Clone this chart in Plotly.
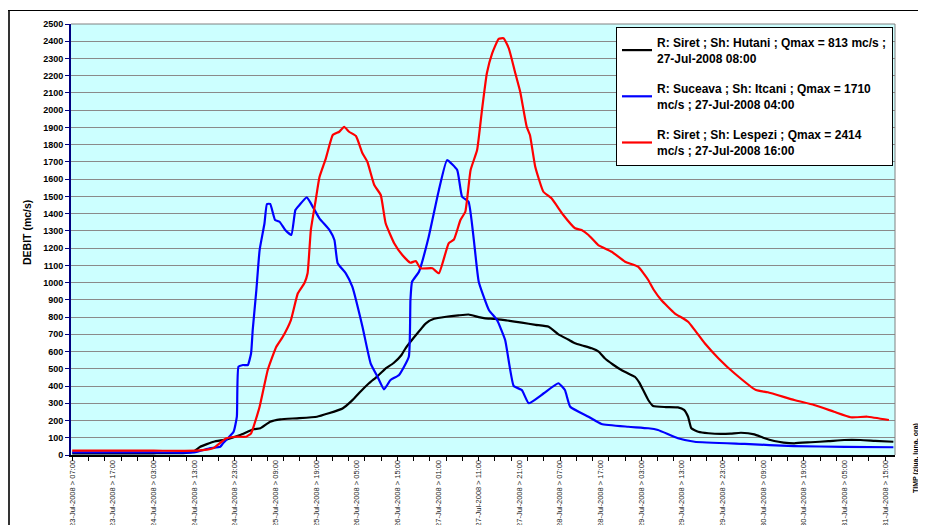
import plotly.graph_objects as go

# Time axis: hours elapsed since 23-Jul-2008 07:00
tick_labels = [
    "23-Jul-2008 > 07:00", "23-Jul-2008 > 17:00", "24-Jul-2008 > 03:00",
    "24-Jul-2008 > 13:00", "24-Jul-2008 > 23:00", "25-Jul-2008 > 09:00",
    "25-Jul-2008 > 19:00", "26-Jul-2008 > 05:00", "26-Jul-2008 > 15:00",
    "27-Jul-2008 > 01:00", "27-Jul-2008 > 11:00", "27-Jul-2008 > 21:00",
    "28-Jul-2008 > 07:00", "28-Jul-2008 > 17:00", "29-Jul-2008 > 03:00",
    "29-Jul-2008 > 13:00", "29-Jul-2008 > 23:00", "30-Jul-2008 > 09:00",
    "30-Jul-2008 > 19:00", "31-Jul-2008 > 05:00", "31-Jul-2008 > 15:00",
]
tick_step_h = 10

# R: Siret ; Sh: Hutani
hutani_h = [0, 10, 20, 28, 30, 31.5, 34.8, 38, 41.3, 44.6, 46.3, 48.7, 51.2, 55.3,
            60.2, 63.1, 66.5, 69, 71, 73, 75, 77, 79, 81, 82, 84, 87, 89, 92, 95,
            97.5, 100, 101.6, 104, 107, 110.6, 114, 117.2, 119.6, 122, 123.7, 125.5,
            127.8, 129.5, 131, 133, 135.1, 137, 138.4, 139.5, 141.7, 142.9, 146, 149,
            150.5, 151.5, 152.3, 154, 156.5, 159.6, 162, 164.5, 167.8, 170, 172.7,
            175, 177.6, 181.7, 186, 189.9, 193.9, 197.5, 202]
hutani_q = [10, 10, 10, 12, 22, 48, 77, 91, 116, 149, 155, 193, 207, 213,
            222, 242, 270, 320, 370, 416, 455, 500, 532, 580, 619, 680, 764, 790, 802, 810,
            815, 800, 793, 790, 780, 768, 755, 744, 700, 670, 648, 635,
            619, 600, 561, 525, 493, 470, 454, 420, 319, 284, 278, 276,
            262, 222, 155, 135, 126, 122, 124, 129, 120, 100, 81,
            72, 68, 74, 80, 87, 87, 82, 77]

# R: Suceava ; Sh: Itcani
itcani_h = [0, 20, 30, 33.8, 36.4, 37.1, 39.7, 40.5, 40.9, 42, 43.2, 44, 44.4, 45.3,
            46.1, 47.3, 47.9, 48.7, 49.9, 51, 52.4, 53.9, 54.9, 55.9, 57.7, 58.7,
            60.8, 63.3, 64.5, 65.3, 67.3, 68.9, 71.4, 73.4, 75.1, 76.7, 78.3, 80.4,
            82.8, 83.2, 83.6, 85.3, 87.7, 90.2, 92.2, 94.7, 95.9, 97.5, 98.8, 100,
            102.5, 104.5, 106.5, 108.6, 110.6, 112.3, 116, 119.6, 121.2, 122.5, 127,
            130.2, 136.8, 141.7, 144.1, 149, 153.1, 165.4, 177.6, 190, 202]
itcani_q = [15, 15, 15, 39, 48, 68, 135, 222, 512, 522, 522, 590, 725, 957,
            1189, 1344, 1456, 1456, 1363, 1353, 1305, 1276, 1421, 1450, 1495, 1460,
            1373, 1305, 1247, 1112, 1054, 976, 744, 532, 454, 381, 435, 464,
            570, 899, 1005, 1063, 1266, 1537, 1710, 1653, 1498, 1469, 1247, 1005,
            841, 783, 667, 400, 377, 300, 358, 416, 377, 280, 222,
            180, 164, 155, 145, 97, 77, 64, 52, 47, 45]

# R: Siret ; Sh: Lespezi
lespezi_h = [0, 20, 30.6, 34.6, 37.9, 40.4, 42.8, 44, 46.1, 48.1, 50.2, 51.8, 53.8,
             55.5, 57.1, 57.9, 58.7, 59.9, 60.8, 62.4, 64.1, 65.7, 66.9, 68.1, 69.8,
             71.4, 72.6, 74.3, 75.9, 77.1, 79.2, 81.2, 83.2, 84.5, 85.7, 88.6, 90.2,
             92.6, 93.9, 95.5, 96.7, 98, 99.6, 100.8, 102, 103.3, 104.9, 106.1, 107.4,
             109, 110.2, 111.8, 112.6, 113.9, 115.9, 117.9, 120.8, 123.7, 125.3, 127,
             129.4, 132.7, 136, 139.2, 141.7, 143, 144.9, 148.2, 151.5, 155.6, 159,
             162.9, 168.2, 171.1, 177.6, 182.5, 187.4, 191.5, 195.6, 200.9]
lespezi_q = [25, 25, 25, 39, 97, 106, 106, 126, 280, 493, 628, 686, 783,
             938, 996, 1054, 1305, 1479, 1610, 1721, 1856, 1875, 1904, 1875, 1850,
             1750, 1701, 1566, 1508, 1344, 1228, 1160, 1115, 1125, 1083, 1083, 1054,
             1228, 1250, 1363, 1411, 1653, 1769, 2001, 2214, 2330, 2414, 2417, 2359,
             2214, 2107, 1904, 1856, 1672, 1527, 1489, 1392, 1315, 1305, 1276,
             1218, 1179, 1121, 1092, 1015, 960, 899, 822, 773, 648, 560,
             474, 377, 364, 319, 290, 251, 219, 222, 203]

series_names = [
    "R: Siret ; Sh: Hutani ; Qmax = 813 mc/s ;<br>27-Jul-2008 08:00",
    "R: Suceava ; Sh: Itcani ; Qmax = 1710<br>mc/s ; 27-Jul-2008 04:00",
    "R: Siret ; Sh: Lespezi ; Qmax = 2414<br>mc/s ; 27-Jul-2008 16:00",
]
series_colors = ["#000000", "#0000FF", "#FF0000"]
series_data = [(hutani_h, hutani_q), (itcani_h, itcani_q), (lespezi_h, lespezi_q)]

FONT = "Liberation Sans, Arial, sans-serif"

fig = go.Figure()
for i, ((hx, qy), name, col) in enumerate(zip(series_data, series_names, series_colors)):
    fig.add_trace(go.Scatter(
        x=hx, y=qy, mode="lines", name=name, legendgroup=f"g{i}",
        line=dict(color=col, width=2.2, shape="spline", smoothing=0.4),
    ))

# the page body has an 8px margin; the figure is sized to fill the rest of the window
OFF = 8
W, H = 926 - OFF, 525 - OFF
L, T = 71 - OFF, 24 - OFF
R = W - (895 - OFF)
B = H - (455 - OFF)
pw, ph = W - L - R, H - T - B


def px(xp):
    """window pixel x -> paper fraction"""
    return (xp - OFF - L) / pw


def py(yp):
    """window pixel y -> paper fraction"""
    return (H - B - (yp - OFF)) / ph


fig.update_layout(
    width=W, height=H,
    margin=dict(l=L, r=R, t=T, b=B, pad=0),
    paper_bgcolor="white",
    plot_bgcolor="#CCFFFF",
    font=dict(family=FONT, color="black"),
    showlegend=True,
    legend=dict(
        x=px(893), y=py(27), xanchor="right", yanchor="top",
        bgcolor="white", bordercolor="black", borderwidth=1,
        font=dict(family=FONT, size=12, weight="bold", color="black"),
        traceorder="grouped", tracegroupgap=12,
    ),
    xaxis=dict(
        range=[-0.3, 202.4],
        tickmode="array",
        tickvals=[i * tick_step_h for i in range(len(tick_labels))],
        ticktext=tick_labels,
        tickangle=-90,
        tickfont=dict(family=FONT, size=7.5, color="#222222"),
        ticks="outside", ticklen=0,
        minor=dict(dtick=4, tick0=0, ticks="outside", ticklen=4, tickcolor="black",
                   showgrid=False),
        showgrid=False, zeroline=False,
        showline=True, linecolor="black", linewidth=2,
        automargin=False,
    ),
    yaxis=dict(
        range=[0, 2500], dtick=100, tick0=0,
        tickfont=dict(family=FONT, size=9, weight="bold", color="black"),
        ticks="outside", ticklen=4, tickcolor="#000080", tickwidth=1,
        showgrid=True, gridcolor="#8a8a8a", gridwidth=1,
        zeroline=False,
        showline=True, linecolor="#000080", linewidth=2,
        automargin=False,
    ),
    shapes=[
        dict(type="line", xref="paper", yref="paper", x0=0, x1=1, y0=1, y1=1,
             line=dict(color="#808080", width=1)),
        dict(type="line", xref="paper", yref="paper", x0=1, x1=1, y0=0, y1=1,
             line=dict(color="#808080", width=1)),
        dict(type="line", xref="paper", yref="paper", x0=px(8), x1=px(940),
             y0=py(10.5), y1=py(10.5), layer="above",
             line=dict(color="black", width=1.2)),
        dict(type="line", xref="paper", yref="paper", x0=px(9), x1=px(9),
             y0=py(10), y1=py(540), layer="above",
             line=dict(color="black", width=1.6)),
    ],
    annotations=[
        dict(text="DEBIT (mc/s)", xref="paper", yref="paper", x=px(27), y=py(233),
             textangle=-90, showarrow=False, xanchor="center", yanchor="middle",
             font=dict(family=FONT, size=10.5, weight="bold", color="black")),
        dict(text="TIMP (ziua, luna, ora)", xref="paper", yref="paper", x=px(916),
             y=py(458), textangle=-90, showarrow=False, xanchor="center",
             yanchor="middle",
             font=dict(family=FONT, size=7, weight="bold", color="black")),
    ],
)

fig.write_html("out.html")
